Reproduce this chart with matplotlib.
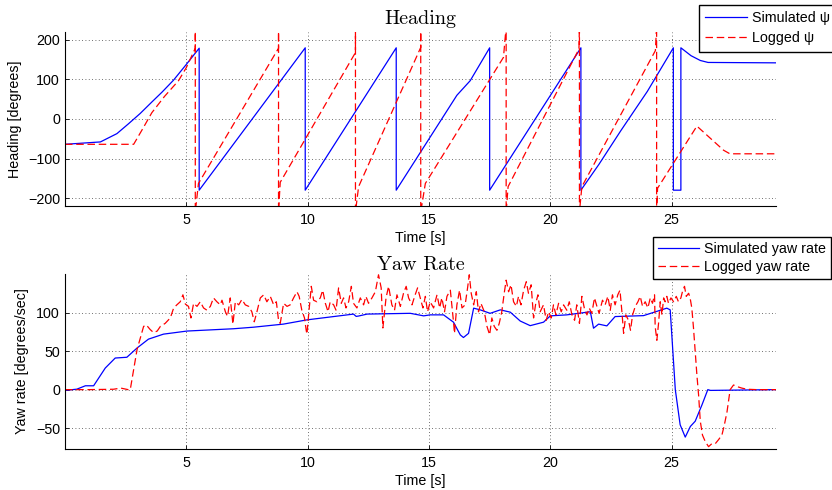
import matplotlib
matplotlib.use("Agg")
import matplotlib.pyplot as plt

plt.rcParams["font.family"] = ["Liberation Sans", "DejaVu Sans"]
plt.rcParams["font.size"] = 10.3

# heading, simulated (deg)
t_head_sim = [0, 1.46, 2.14, 2.6, 3.1, 3.58, 4.0, 4.47, 5.0, 5.53, 5.53, 9.9, 9.9,
              13.65, 13.65, 16.15, 16.7, 17.5, 17.5, 21.26, 21.26, 22.0, 22.9, 24.0,
              25.07, 25.07, 25.38, 25.38, 25.8, 26.18, 26.5, 29.3]
head_sim = [-64, -58, -37, -13, 14, 43, 68, 98, 138, 179, -180, 180, -180,
            180, -180, 60, 97, 180, -180, 180, -180, -115, -30, 70,
            180, -180, -180, 180, 160, 148, 143, 142]

# heading, logged (deg)
t_head_log = [0, 2.83, 3.2, 3.58, 4.1, 4.68, 5.0, 5.37, 5.37, 5.37, 5.5, 8.8, 8.8, 8.8,
              8.87, 11.97, 11.97, 11.97, 12.1, 14.66, 14.66, 14.66, 14.85, 18.07,
              18.18, 18.18, 18.26, 21.18, 21.2, 21.2, 21.3, 24.33, 24.38, 24.38,
              24.42, 26.04, 27.14, 27.4, 29.3]
head_log = [-64, -64, -25, 16, 57, 97, 130, 179, 235, -235, -163, 179, 235, -235,
            -160, 168, 235, -235, -171, 181, 235, -235, -163, 156,
            235, -235, -171, 177, 235, -235, -171, 173, 235, -235,
            -175, -18, -79, -88, -88]

# yaw rate, simulated (deg/s)
t_yaw_sim = [0, 0.49, 0.84, 1.18, 1.66, 2.07, 2.55, 2.97, 3.44, 4.06, 5.03, 6.95,
             7.77, 9.0, 9.97, 11.89, 12.0, 12.1, 12.45, 14.23, 14.78, 15.05, 15.6,
             16.01, 16.29, 16.42, 16.63, 16.84, 17.11, 17.52, 17.94, 18.35, 18.76,
             19.17, 19.72, 20.0, 20.68, 21.65, 21.78, 21.99, 22.33, 22.67, 23.84,
             24.8, 24.94, 25.15, 25.35, 25.56, 25.77, 25.97, 26.25, 26.49, 26.6, 29.3]
yaw_sim = [-1, 0.6, 5, 5, 28, 41, 42, 54, 65.5, 72, 76, 79,
           81, 85, 90.5, 98, 95, 95.5, 98, 99, 95.7, 97, 97,
           87.5, 71, 67.6, 73, 105.7, 103.5, 99, 103.5, 100.5, 89,
           83, 87.5, 95.7, 97, 101, 79.7, 85, 82.7, 94.8, 96,
           105.7, 103.5, 0, -45.6, -61.6, -47.8, -41, -19.7, 0, -1, 0]

# yaw rate, logged (deg/s)
t_yaw_log = [0, 1.0, 2.0, 2.3, 2.45, 2.6, 2.69, 2.97, 3.24, 3.35, 3.51, 3.65, 3.8,
             3.93, 4.13, 4.34, 4.48, 4.61, 4.75, 4.86, 4.96, 5.09, 5.19, 5.30, 5.44,
             5.575, 5.71, 5.85, 5.99, 6.12, 6.26, 6.40, 6.47, 6.61, 6.70, 6.81, 6.92,
             7.02, 7.16, 7.29, 7.43, 7.57, 7.70, 7.80, 7.91, 8.05, 8.19, 8.32, 8.46,
             8.60, 8.71, 8.80, 8.87, 9.01, 9.15, 9.28, 9.42, 9.56, 9.65, 9.76, 9.87,
             9.94, 9.97, 10.04, 10.15, 10.245, 10.38, 10.52, 10.62, 10.73, 10.84,
             10.93, 11.07, 11.17, 11.275, 11.385, 11.48, 11.58, 11.69, 11.80, 11.89,
             12.03, 12.17, 12.305, 12.40, 12.51, 12.65, 12.79, 12.92, 13.03, 13.10,
             13.23, 13.335, 13.47, 13.58, 13.68, 13.82, 13.95, 14.06, 14.16, 14.30,
             14.43, 14.53, 14.64, 14.75, 14.85, 14.94, 15.05, 15.19, 15.33, 15.44,
             15.53, 15.64, 15.74, 15.88, 16.01, 16.05, 16.15, 16.26, 16.36, 16.49,
             16.59, 16.66, 16.74, 16.84, 16.95, 17.04, 17.14, 17.28, 17.39, 17.50,
             17.59, 17.69, 17.80, 17.895, 18.0, 18.10, 18.18, 18.28, 18.38, 18.485,
             18.60, 18.69, 18.79, 18.90, 19.01, 19.10, 19.21, 19.31, 19.40, 19.49,
             19.58, 19.72, 19.83, 19.93, 20.04, 20.13, 20.23, 20.34, 20.45, 20.545,
             20.68, 20.78, 20.89, 21.0, 21.09, 21.20, 21.30, 21.40, 21.51, 21.60,
             21.71, 21.82, 21.92, 22.01, 22.15, 22.26, 22.37, 22.47, 22.56, 22.67,
             22.78, 22.87, 22.95, 23.02, 23.11, 23.22, 23.305, 23.39, 23.50, 23.61,
             23.705, 23.80, 23.91, 24.02, 24.12, 24.21, 24.295, 24.32, 24.39, 24.46,
             24.53, 24.60, 24.67, 24.73, 24.80, 24.87, 24.97, 25.08, 25.19, 25.28,
             25.38, 25.46, 25.53, 25.60, 25.70, 25.76, 25.83, 25.90, 25.97, 26.04,
             26.11, 26.18, 26.27, 26.38, 26.52, 26.66, 26.80, 26.93, 27.07, 27.17,
             27.28, 27.36, 27.41, 27.55, 27.69, 27.89, 28.1, 28.5, 29.3]
yaw_log = [0, 0, 0.5, 2, 1, 0, 0, 52, 82, 84, 78, 74, 76,
           82, 86, 93, 106, 110, 114, 123, 111, 108, 93, 112, 108,
           114, 106, 103, 108, 119, 114, 110, 116, 101, 95, 119, 85,
           114, 110, 117, 110, 108, 101, 88, 101, 119, 123, 114, 121,
           110, 114, 90, 86, 112, 108, 110, 119, 127, 121, 103, 93,
           77, 72, 97, 134, 116, 114, 119, 129, 112, 101,
           114, 110, 103, 132, 112, 119, 106, 114, 134, 112,
           106, 119, 110, 121, 112, 119, 127, 149, 132, 80,
           119, 134, 110, 103, 123, 108, 125, 134, 119, 110,
           123, 132, 119, 106, 121, 101, 114, 106, 123, 106,
           119, 101, 121, 129, 88, 73, 110, 129, 106, 110,
           132, 149, 125, 110, 127, 101, 112, 101, 82, 71,
           93, 82, 77, 86, 101, 125, 142, 127, 136, 114,
           108, 121, 110, 129, 140, 125, 136, 93, 112, 123,
           101, 110, 90, 101, 93, 110, 97, 112, 101, 110,
           103, 114, 97, 90, 110, 86, 121, 106, 97, 106,
           99, 119, 108, 99, 116, 110, 121, 103, 123, 110,
           123, 129, 101, 73, 97, 90, 77, 97, 108, 114,
           121, 108, 114, 106, 119, 112, 123, 82, 64, 86,
           114, 97, 119, 114, 121, 112, 119, 114, 121, 114,
           119, 129, 134, 121, 125, 119, 106, 80, 49, 19,
           -7, -41, -59, -67, -74, -70, -70, -65, -59, -46,
           -29, -11, 0, 6, 4, 2, 0.5, 0, 0]

blue = "#0000ff"
red = "#ff0000"
fig = plt.figure(figsize=(8.32, 4.9), dpi=100)
ax1 = fig.add_axes([0.0781, 0.5796, 0.8546, 0.3551])
ax2 = fig.add_axes([0.0781, 0.0837, 0.8546, 0.3571])

ax1.plot(t_head_sim, head_sim, color=blue, lw=0.9, label="Simulated ψ")
ax1.plot(t_head_log, head_log, color=red, lw=0.9, dashes=(6, 3), label="Logged ψ")
ax1.set_xlim(0, 29.3)
ax1.set_ylim(-220, 220)
ax1.set_yticks([-200, -100, 0, 100, 200])
ax1.set_title("Heading", fontfamily="cmr10", fontsize=14.5, pad=5.5)
ax1.set_ylabel("Heading [degrees]")

ax2.plot(t_yaw_sim, yaw_sim, color=blue, lw=0.9, label="Simulated yaw rate")
ax2.plot(t_yaw_log, yaw_log, color=red, lw=0.9, dashes=(6, 3), label="Logged yaw rate")
ax2.set_xlim(0, 29.3)
ax2.set_ylim(-77, 150)
ax2.set_yticks([-50, 0, 50, 100])
ax2.set_title("Yaw Rate", fontfamily="cmr10", fontsize=14.5, pad=3)
ax2.set_ylabel("Yaw rate [degrees/sec]", labelpad=5)

for ax in (ax1, ax2):
    ax.set_xticks([5, 10, 15, 20, 25])
    ax.set_xlabel("Time [s]", labelpad=3)
    ax.grid(True, color="0.25", linestyle=(0, (1, 3)), linewidth=0.6)
    ax.spines["top"].set_visible(False)
    ax.spines["right"].set_visible(False)
    ax.tick_params(direction="in", length=3, width=0.6)
    ax.tick_params(axis="x", pad=5)

leg1 = ax1.legend(loc="upper left", bbox_to_anchor=(0.8398, 0.9898),
                  bbox_transform=fig.transFigure, fancybox=False, framealpha=1,
                  edgecolor="black", handlelength=2.9, handletextpad=0.35,
                  borderaxespad=0, borderpad=0.45, labelspacing=0.4)
leg2 = ax2.legend(loc="upper left", bbox_to_anchor=(0.7845, 0.5163),
                  bbox_transform=fig.transFigure, fancybox=False, framealpha=1,
                  edgecolor="black", handlelength=2.9, handletextpad=0.35,
                  borderaxespad=0, borderpad=0.35, labelspacing=0.25)
for leg in (leg1, leg2):
    leg.get_frame().set_linewidth(1.0)

fig.savefig("out.png", dpi=100)
